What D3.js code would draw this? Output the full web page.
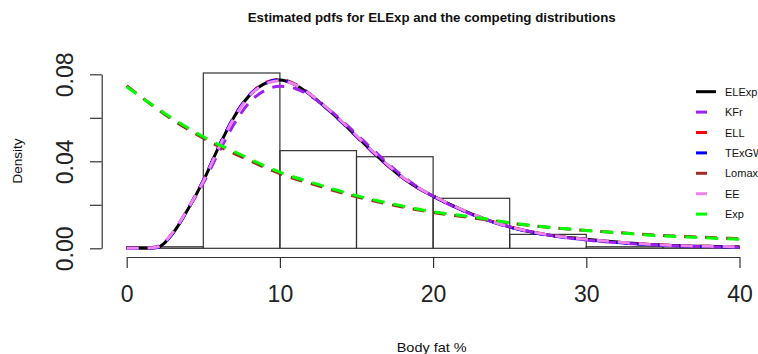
<!DOCTYPE html>
<html><head><meta charset="utf-8">
<script src="https://cdn.jsdelivr.net/npm/d3@7/dist/d3.min.js"></script>
<style>
html,body{margin:0;padding:0;background:#fff;}
svg{display:block;}
text{font-family:"Liberation Sans Narrow","Arial Narrow","Liberation Sans",Arial,sans-serif;}
</style></head>
<body>
<svg id="chart" width="758" height="354"></svg>
<script>
// ---------- data ----------
const histBreaks = [0, 5, 10, 15, 20, 25, 30, 35, 40];
const histDensity = [0.0007, 0.0806, 0.0449, 0.0421, 0.0230, 0.0064, 0.0007, 0.0007];

const xGrid = d3.range(0, 41, 1); // 0..40
const xTail = [0, 2.5, 5, 7.5, 10, 12.5, 15, 17.5, 20, 22.5, 25, 27.5, 30, 32.5, 35, 37.5, 40];

const elexp = [0, 0, 0.0004, 0.0068, 0.0180, 0.0310, 0.0465, 0.0603, 0.0702, 0.0757, 0.0774,
  0.0752, 0.0705, 0.0647, 0.0583, 0.0515, 0.0447, 0.0383, 0.0325, 0.0277, 0.0240,
  0.0205, 0.0173, 0.0144, 0.0119, 0.0098, 0.0081, 0.0067, 0.0056, 0.0048, 0.0042,
  0.0035, 0.0029, 0.0023, 0.0018, 0.0015, 0.0012, 0.0010, 0.0009, 0.0008, 0.0007];
const kfr = [0, 0, 0.0008, 0.0068, 0.0180, 0.0300, 0.0440, 0.0570, 0.0670, 0.0725, 0.0745,
  0.0735, 0.0700, 0.0650, 0.0590, 0.0525, 0.0458, 0.0393, 0.0333, 0.0281, 0.0240,
  0.0203, 0.0171, 0.0143, 0.0119, 0.0099, 0.0082, 0.0068, 0.0056, 0.0046, 0.0038,
  0.0031, 0.0026, 0.0021, 0.0017, 0.0014, 0.0011, 0.0009, 0.0007, 0.0006, 0.0005];
const ell = [0, 0, 0.0005, 0.0070, 0.0182, 0.0310, 0.0463, 0.0602, 0.0704, 0.0760, 0.0776,
  0.0755, 0.0707, 0.0648, 0.0583, 0.0514, 0.0446, 0.0382, 0.0325, 0.0278, 0.0240,
  0.0205, 0.0173, 0.0145, 0.0120, 0.0099, 0.0082, 0.0068, 0.0057, 0.0048, 0.0041,
  0.0034, 0.0028, 0.0023, 0.0019, 0.0015, 0.0012, 0.0010, 0.0009, 0.0008, 0.0007];
const texgw = [0, 0, 0.0004, 0.0069, 0.0181, 0.0312, 0.0466, 0.0604, 0.0703, 0.0756, 0.0775,
  0.0753, 0.0706, 0.0647, 0.0582, 0.0514, 0.0447, 0.0384, 0.0326, 0.0278, 0.0240,
  0.0204, 0.0172, 0.0143, 0.0118, 0.0097, 0.0080, 0.0066, 0.0055, 0.0046, 0.0040,
  0.0033, 0.0027, 0.0021, 0.0017, 0.0014, 0.0011, 0.0009, 0.0008, 0.0007, 0.0006];
const lomax = [0.0748, 0.0615, 0.0506, 0.0420, 0.0343, 0.0287, 0.0237, 0.0197, 0.0165,
  0.0140, 0.0116, 0.0097, 0.0082, 0.0070, 0.0059, 0.0051, 0.0044];
const ee = [0, 0, 0.0006, 0.0072, 0.0183, 0.0308, 0.0460, 0.0598, 0.0700, 0.0754, 0.0771,
  0.0752, 0.0707, 0.0650, 0.0586, 0.0518, 0.0450, 0.0386, 0.0328, 0.0280, 0.0241,
  0.0206, 0.0174, 0.0145, 0.0120, 0.0099, 0.0082, 0.0068, 0.0057, 0.0048, 0.0042,
  0.0035, 0.0029, 0.0024, 0.0019, 0.0015, 0.0012, 0.0010, 0.0009, 0.0008, 0.0007];
const expo = [0.0743, 0.0620, 0.0513, 0.0429, 0.0350, 0.0294, 0.0242, 0.0202, 0.0168,
  0.0145, 0.0118, 0.0097, 0.0082, 0.0069, 0.0057, 0.0049, 0.0041];

const seriesNames = ["ELExp", "KFr", "ELL", "TExGW", "Lomax", "EE", "Exp"];
const seriesColors = ["#000000", "#A020F0", "#FF0000", "#0000FF", "#A52A2A", "#EE82EE", "#00FF00"];
const xTickValues = [0, 10, 20, 30, 40];
const yTickValues = [0, 0.02, 0.04, 0.06, 0.08];
const yTickLabels = ["0.00", "", "0.04", "", "0.08"];

const titleText = "Estimated pdfs for ELExp and the competing distributions";
const xLabelText = "Body fat %";
const yLabelText = "Density";

// ---------- chart ----------
const svg = d3.select("#chart");
const x = d3.scaleLinear().domain([0, 40]).range([126.7, 739.5]);
const y = d3.scaleLinear().domain([0, 0.08]).range([248.3, 74.3]);

const seriesX = [xGrid, xGrid, xGrid, xGrid, xTail, xGrid, xTail];
const seriesY = [elexp, kfr, ell, texgw, lomax, ee, expo];

// histogram
svg.append("g").selectAll("rect")
  .data(histDensity)
  .join("rect")
  .attr("x", (d, i) => x(histBreaks[i]))
  .attr("width", (d, i) => x(histBreaks[i + 1]) - x(histBreaks[i]))
  .attr("y", d => y(d))
  .attr("height", d => y(0) - y(d))
  .attr("fill", "none")
  .attr("stroke", "#333")
  .attr("stroke-width", 1.2);

// curves
const line = d3.line().curve(d3.curveMonotoneX);
seriesNames.forEach((name, k) => {
  const pts = seriesX[k].map((xv, i) => [x(xv), y(seriesY[k][i])]);
  svg.append("path")
    .attr("d", line(pts))
    .attr("fill", "none")
    .attr("stroke", seriesColors[k])
    .attr("stroke-width", 3)
    .attr("stroke-dasharray", k === 0 ? null : "12,9");
});

// axes
const xAxis = d3.axisBottom(x).tickValues(xTickValues).tickSize(11).tickSizeOuter(0).tickPadding(8)
  .tickFormat(d3.format("d"));
const gx = svg.append("g").attr("transform", "translate(0,257)").call(xAxis);
gx.select(".domain").attr("stroke", "#333").attr("stroke-width", 1.2);
gx.selectAll(".tick line").attr("stroke", "#333").attr("stroke-width", 1.2);
gx.selectAll(".tick text").attr("font-size", 23).attr("fill", "#222")
  .attr("font-family", "'Liberation Sans Narrow','Liberation Sans',sans-serif")
  .attr("dy", null).attr("y", 45);

const yAxis = d3.axisLeft(y).tickValues(yTickValues).tickSize(11.7).tickSizeOuter(0)
  .tickFormat((d, i) => yTickLabels[i]);
const gy = svg.append("g").attr("transform", "translate(101.7,0)").call(yAxis);
gy.select(".domain").attr("stroke", "#333").attr("stroke-width", 1.2);
gy.selectAll(".tick line").attr("stroke", "#333").attr("stroke-width", 1.2);
gy.selectAll(".tick text").attr("font-size", 23).attr("fill", "#222")
  .attr("font-family", "'Liberation Sans Narrow','Liberation Sans',sans-serif")
  .attr("x", null).attr("dy", null)
  .attr("text-anchor", "middle")
  .attr("transform", "translate(-28.4,0) rotate(-90)");

// title & labels
svg.append("text").attr("x", 431.7).attr("y", 21.7).attr("text-anchor", "middle")
  .attr("font-size", 12).attr("font-weight", "bold").attr("fill", "#111")
  .attr("textLength", 368).attr("lengthAdjust", "spacingAndGlyphs")
  .text(titleText);
svg.append("text").attr("x", 431.7).attr("y", 351.5).attr("text-anchor", "middle")
  .attr("font-size", 13).attr("fill", "#111")
  .attr("textLength", 70).attr("lengthAdjust", "spacingAndGlyphs")
  .text(xLabelText);
svg.append("text").attr("transform", "translate(22,161) rotate(-90)").attr("text-anchor", "middle")
  .attr("font-size", 13).attr("fill", "#111")
  .attr("textLength", 45).attr("lengthAdjust", "spacingAndGlyphs")
  .text(yLabelText);

// legend
const leg = svg.append("g");
seriesNames.forEach((name, k) => {
  const yy = 91.7 + k * 20.4;
  leg.append("line").attr("x1", 696).attr("x2", 716).attr("y1", yy).attr("y2", yy)
    .attr("stroke", seriesColors[k]).attr("stroke-width", 3)
    .attr("stroke-dasharray", k === 0 ? null : "11,20");
  leg.append("text").attr("x", 725).attr("y", yy + 4).attr("font-size", 11).attr("fill", "#111")
    .text(name);
});
</script>
</body></html>
